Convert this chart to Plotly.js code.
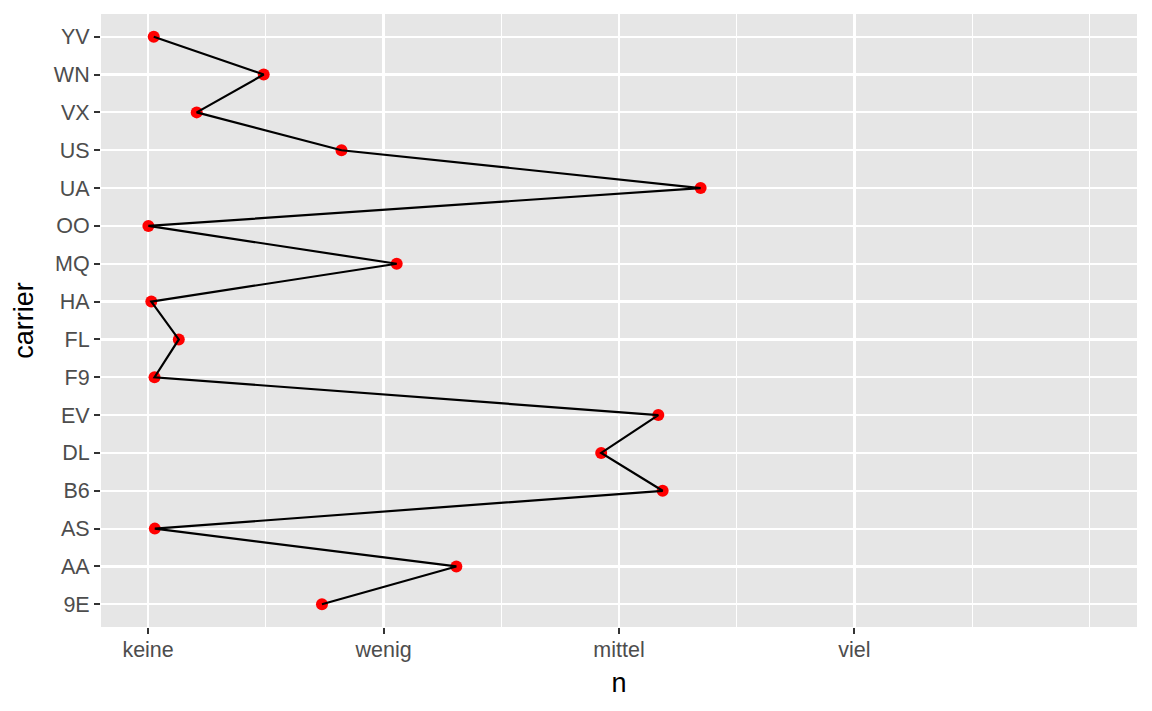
<!DOCTYPE html>
<html>
<head>
<meta charset="utf-8">
<script src="https://cdn.plot.ly/plotly-3.0.1.min.js"></script>
<style>
  html, body { margin: 0; padding: 0; background: #fff; }
  #graphDiv { width: 1152px; height: 711px; }
</style>
</head>
<body>
<div id="graphDiv"></div>
<script>
// flights per carrier
const carriers = ['9E', 'AA', 'AS', 'B6', 'DL', 'EV', 'F9', 'FL', 'HA', 'MQ', 'OO', 'UA', 'US', 'VX', 'WN', 'YV'];
const counts = [18460, 32729, 714, 54635, 48110, 54173, 685, 3260, 342, 26397, 32, 58665, 20536, 5162, 12275, 601];

// x axis breaks and labels
const xBreaks = [0, 25000, 50000, 75000];
const xLabels = ['keine', 'wenig', 'mittel', 'viel'];
const xMinor = [12500, 37500, 62500, 87500, 100000];

drawGraph();

function drawGraph() {
  const points = {
    x: counts,
    y: carriers,
    mode: 'markers',
    type: 'scatter',
    marker: {color: '#FF0000', size: 12},
    showlegend: false,
    hoverinfo: 'skip'
  };

  const path = {
    x: counts,
    y: carriers,
    mode: 'lines',
    type: 'scatter',
    line: {color: '#000000', width: 2.2},
    showlegend: false,
    hoverinfo: 'skip'
  };

  const font = 'Liberation Sans, Arial, Helvetica, sans-serif';

  const layout = {
    width: 1152,
    height: 711,
    paper_bgcolor: '#FFFFFF',
    plot_bgcolor: '#E6E6E6',
    margin: {l: 101, r: 15, t: 14, b: 84},
    font: {family: font},
    xaxis: {
      range: [-5000, 105000],
      tickvals: xBreaks,
      ticktext: xLabels,
      ticks: 'outside',
      ticklen: 6,
      tickwidth: 2,
      tickcolor: '#333333',
      ticklabelstandoff: -3,
      tickfont: {size: 21.5, color: '#4D4D4D', family: font},
      showgrid: true,
      gridcolor: '#FFFFFF',
      gridwidth: 2.2,
      minor: {tickvals: xMinor, showgrid: true, gridcolor: '#FFFFFF', gridwidth: 1.1, ticks: ''},
      zeroline: false,
      showline: false,
      title: {text: 'n', font: {size: 27, color: '#000000', family: font}, standoff: 12}
    },
    yaxis: {
      type: 'category',
      categoryorder: 'array',
      categoryarray: carriers,
      range: [-0.6, 15.6],
      ticks: 'outside',
      ticklen: 6,
      tickwidth: 2,
      tickcolor: '#333333',
      tickfont: {size: 21.5, color: '#4D4D4D', family: font},
      showgrid: true,
      gridcolor: '#FFFFFF',
      gridwidth: 2.2,
      zeroline: false,
      showline: false,
      title: {text: 'carrier', font: {size: 27, color: '#000000', family: font}, standoff: 12}
    }
  };

  Plotly.newPlot('graphDiv', [points, path], layout, {staticPlot: true});
}
</script>
</body>
</html>
